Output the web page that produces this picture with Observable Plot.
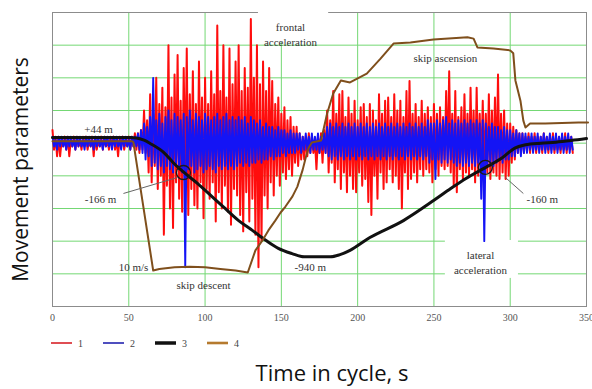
<!DOCTYPE html>
<html>
<head>
<meta charset="utf-8">
<script src="https://cdn.jsdelivr.net/npm/d3@7"></script>
<script src="https://cdn.jsdelivr.net/npm/@observablehq/plot@0.6"></script>
<style>
  html, body { margin: 0; padding: 0; background: #fff; }
  #wrap { position: relative; width: 592px; height: 389px; overflow: hidden; }
  #chart { position: absolute; left: 0; top: 0; }
  #legend { position: absolute; left: 0; top: 332px; }
  #xtitle { position: absolute; top: 360px; left: 332px; transform: translateX(-50%); line-height: 24px;
            font-family: "Open Sans", sans-serif; font-size: 22px; color: #111; white-space: nowrap; }
</style>
</head>
<body>
<div id="wrap">
  <div id="chart"></div>
  <div id="legend"></div>
  <div id="xtitle">Time in cycle, s</div>
</div>
<script>
// ---- data (time axis in s; values in arbitrary "movement parameter" units) ----
const sampleStep = 2; // seconds between samples of the accelerometer traces
const xTicks = [0, 50, 100, 150, 200, 250, 300, 350];
const xGrid = [50, 100, 150, 200, 250, 300];
const yGrid = [-40, -30, -20, -10, 0, 10, 20, 30];

// 1 - frontal acceleration: upper / lower swings per sample
const redHi = [
  4, 2, 2, 1, 2, 2, 1, 2, 2, 1,
  2, 2, 1, 2, 2, 1, 2, 2, 1, 2,
  2, 1, 2, 2, 1, 2, 2, 3, 3, 4,
  10, 7, 15, 9, 20, 12, 17, 11, 30, 14,
  21, 27, 13, 23, 29, 15, 22, 12, 25, 14,
  20, 12, 22, 15, 36, 16, 30, 14, 29, 18,
  25, 30, 16, 23, 17, 38, 20, 30, 18, 25,
  16, 23, 19, 12, 14, 9, 11, 7, 8, 5,
  5, 3, 2, 2, 3, 2, 1, 2, 3, 4,
  10, 7, 16, 9, 15, 16, 8, 14, 9, 13,
  7, 11, 12, 8, 12, 10, 7, 15, 9, 13,
  14, 8, 15, 10, 13, 8, 16, 19, 9, 12,
  8, 13, 9, 11, 8, 12, 9, 11, 8, 16,
  22, 9, 16, 8, 11, 15, 9, 17, 10, 17,
  9, 13, 9, 15, 10, 14, 21, 9, 10, 6,
  6, 5, 4, 3, 3, 2, 3, 2, 3, 2,
  2, 3, 2, 2, 3, 2, 2, 2, 3, 2,
  2
];
const redLo = [
  -2, -4, -4, -1, -2, -4, -1, -2, -1, -2,
  -1, -2, -1, -4, -2, -1, -2, -1, -2, -1,
  -2, -4, -1, -2, -1, -2, -1, -2, -3, -2,
  -3, -9, -12, -7, -14, -10, -28, -13, -20, -26,
  -12, -17, -21, -12, -22, -14, -19, -20, -12, -23,
  -14, -17, -12, -24, -15, -20, -13, -21, -25, -14,
  -16, -22, -27, -15, -24, -17, -28, -38, -30, -16,
  -20, -12, -16, -10, -13, -9, -11, -8, -10, -6,
  -7, -5, -5, -4, -3, -3, -8, -3, -6, -3,
  -9, -6, -12, -8, -14, -9, -15, -10, -14, -15,
  -9, -13, -11, -18, -22, -10, -17, -9, -14, -12,
  -8, -12, -10, -14, -20, -9, -14, -11, -9, -12,
  -8, -10, -8, -9, -12, -8, -10, -7, -8, -7,
  -9, -13, -15, -8, -11, -9, -10, -8, -12, -10,
  -8, -10, -9, -11, -9, -10, -11, -9, -11, -10,
  -6, -5, -3, -3, -3, -2, -3, -2, -3, -2,
  -3, -2, -3, -2, -3, -2, -3, -2, -3, -2,
  -3
];

// 2 - lateral acceleration
const blueHi = [
  2, 1, 2, 2, 1, 2, 2, 1, 2, 2,
  1, 2, 2, 1, 2, 2, 1, 2, 2, 1,
  2, 2, 1, 2, 2, 1, 2, 2, 3, 4,
  6, 5, 8, 20, 7, 9, 6, 8, 10, 7,
  9, 8, 7, 9, 8, 10, 7, 9, 8, 7,
  9, 8, 7, 8, 9, 7, 8, 9, 7, 8,
  7, 8, 7, 8, 6, 8, 7, 6, 7, 5,
  6, 5, 5, 4, 5, 4, 4, 3, 4, 3,
  3, 3, 2, 3, 2, 3, 2, 3, 2, 3,
  5, 6, 5, 6, 5, 6, 5, 6, 5, 6,
  5, 6, 5, 6, 5, 6, 5, 6, 5, 6,
  5, 6, 5, 6, 5, 6, 5, 6, 5, 6,
  5, 6, 5, 7, 6, 6, 7, 6, 7, 8,
  6, 7, 6, 7, 6, 7, 6, 7, 6, 7,
  6, 7, 6, 5, 6, 5, 5, 4, 5, 4,
  4, 3, 4, 3, 3, 3, 2, 3, 2, 3,
  2, 3, 2, 3, 2, 3, 2, 3, 2, 3,
  2
];
const blueLo = [
  -1, -2, -1, -1, -2, -1, -1, -2, -1, -1,
  -2, -1, -1, -2, -1, -1, -2, -1, -1, -2,
  -1, -1, -2, -1, -1, -2, -1, -1, -2, -3,
  -5, -4, -7, -6, -8, -7, -9, -7, -8, -9,
  -7, -8, -9, -38, -8, -7, -9, -8, -7, -9,
  -8, -7, -8, -9, -7, -8, -7, -8, -7, -8,
  -7, -6, -7, -6, -7, -6, -6, -5, -6, -5,
  -5, -4, -5, -4, -4, -3, -4, -3, -3, -3,
  -2, -3, -2, -2, -3, -2, -2, -3, -2, -3,
  -4, -5, -4, -5, -4, -5, -4, -5, -4, -5,
  -4, -5, -4, -5, -4, -5, -4, -5, -4, -5,
  -4, -5, -4, -5, -4, -5, -4, -5, -4, -5,
  -4, -5, -4, -6, -5, -11, -5, -6, -5, -6,
  -5, -6, -7, -6, -7, -6, -7, -6, -7, -6,
  -17, -30, -7, -6, -7, -6, -5, -6, -5, -5,
  -4, -4, -3, -4, -3, -3, -2, -3, -2, -3,
  -2, -3, -2, -3, -2, -3, -2, -3, -2, -3,
  -2
];

// 3 - skip position (depth)
const depthT = [0, 51, 55, 60, 64, 73, 79, 86, 95, 103.5, 112, 122, 131, 140, 148, 157, 165, 182, 188, 195, 208, 230, 250, 261, 271, 284, 295, 303, 310, 320, 330, 340, 350];
const depthV = [1.7, 1.7, 1.6, 0.9, -0.1, -2.9, -5.9, -8.9, -12.3, -15.9, -19.5, -23.7, -26.7, -29.8, -32.2, -33.8, -34.8, -34.8, -34.2, -32.8, -28.9, -23.7, -17.5, -13.9, -10.8, -7.4, -4.4, -1.5, -0.5, 0, 0.3, 0.8, 1.4];

// 4 - skip speed
const speedT = [0, 52, 53, 66, 70, 80, 90, 100, 110, 120, 128, 133, 137.6, 141.5, 146, 149.4, 152.7, 157.3, 160.5, 164, 166, 168, 170, 176, 180, 184, 189, 195, 206, 215, 223.5, 234.6, 249.7, 272, 276, 278.5, 289, 300, 302, 303.4, 306.7, 308.6, 310, 313, 323, 344.7, 351];
const speedV = [0.6, 0.6, 0.3, -39, -38.5, -38, -37.8, -38, -38.5, -39, -39.6, -32.8, -29.8, -26.7, -23.7, -21.3, -19.4, -16.3, -13.3, -8.1, -4.4, -1.3, 0.2, 0.8, 9.1, 15.2, 19.2, 18.6, 21.3, 25.9, 30.5, 30.8, 31.7, 32.4, 32, 29.3, 29, 28.4, 27.5, 19.2, 13, 6.9, 4.8, 6, 6, 6.3, 6.3];

const seriesNames = ["1", "2", "3", "4"];
const seriesColors = ["#dc3a40", "#3b3bb8", "#111111", "#b57a2e"];

// annotations
const noteText = ["+44 m", "frontal\nacceleration", "skip ascension", "-166 m", "10 m/s", "skip descent", "-940 m", "-160 m", "lateral\nacceleration"];
const noteT = [30.1, 156, 257.5, 31.5, 53.1, 99, 169, 321, 280.5];
const noteV = [4.5, 33.4, 26.2, -16.9, -37.8, -43.3, -37.8, -17, -36.4];
const markT = [85.8, 283.7];
const markV = [-9.0, -7.4];
const leaderT1 = [46.5, 296.8], leaderV1 = [-15.4, -10.5];
const leaderT2 = [81.9, 308.6], leaderV2 = [-10.5, -15.4];
const boxT1 = [135, 257.5], boxT2 = [181, 305.4];
const boxV1 = [30.8, -41.4], boxV2 = [44, -29.8];

// ---- build tables ----
function zig(hi, lo) {
  const out = [];
  hi.forEach((h, i) => {
    out.push({t: i * sampleStep, v: h});
    if (lo[i] !== undefined) out.push({t: i * sampleStep + sampleStep / 2, v: lo[i]});
  });
  return out;
}
const red = zig(redHi, redLo);
const blue = zig(blueHi, blueLo);
const depth = depthT.map((t, i) => ({t, v: depthV[i]}));
const speed = speedT.map((t, i) => ({t, v: speedV[i]}));
const notes = noteText.map((text, i) => ({text, t: noteT[i], v: noteV[i]}));
const marks = markT.map((t, i) => ({t, v: markV[i]}));
const leaders = leaderT1.map((t, i) => ({t1: t, v1: leaderV1[i], t2: leaderT2[i], v2: leaderV2[i]}));
const boxes = boxT1.map((t, i) => ({t1: t, t2: boxT2[i], v1: boxV1[i], v2: boxV2[i]}));

const serif = "'Liberation Serif', 'Times New Roman', serif";

const chart = Plot.plot({
  width: 592,
  height: 326,
  marginLeft: 52,
  marginRight: 6,
  marginTop: 12,
  marginBottom: 20,
  x: {domain: [0, 350]},
  y: {domain: [-50, 40], axis: null},
  style: {background: "white"},
  marks: [
    Plot.gridX(xGrid, {stroke: "#74d874", strokeOpacity: 1, strokeWidth: 1}),
    Plot.gridY(yGrid, {stroke: "#74d874", strokeOpacity: 1, strokeWidth: 1}),
    Plot.frame({stroke: "#8c8c8c", strokeWidth: 1}),
    Plot.rect(boxes, {x1: "t1", x2: "t2", y1: "v1", y2: "v2", fill: "white"}),
    Plot.axisX(xTicks, {tickSize: 0, tickPadding: 7, fontFamily: serif, fontSize: 10, fill: "#555", label: null}),
    Plot.line(red, {x: "t", y: "v", stroke: "#ff0d0d", strokeWidth: 2}),
    Plot.line(blue, {x: "t", y: "v", stroke: "#1414f5", strokeWidth: 1.9}),
    Plot.line(depth, {x: "t", y: "v", curve: "monotone-x", stroke: "#111", strokeWidth: 3}),
    Plot.line(speed, {x: "t", y: "v", stroke: "#7f4f1c", strokeWidth: 2}),
    Plot.link(leaders, {x1: "t1", y1: "v1", x2: "t2", y2: "v2", stroke: "#666", strokeWidth: 1}),
    Plot.dot(marks, {x: "t", y: "v", r: 7, stroke: "#1a1a1a", strokeWidth: 1.4, fill: "none"}),
    Plot.text(notes, {x: "t", y: "v", text: "text", textAnchor: "middle", fontFamily: serif, fontSize: 11, fill: "#333", lineHeight: 1.35}),
    Plot.text(["Movement parameters"], {frameAnchor: "left", textAnchor: "middle", dx: -31, dy: 10, rotate: -90, fontFamily: "'Open Sans', sans-serif", fontSize: 21, fill: "#111"})
  ]
});
document.getElementById("chart").append(chart);

// ---- legend (below the plot) ----
const leg = d3.select("#legend").append("svg").attr("width", 592).attr("height", 22);
const widths = [1.8, 1.8, 3.5, 2.6];
seriesNames.forEach((name, i) => {
  const x0 = 51 + i * 52;
  leg.append("line").attr("x1", x0).attr("x2", x0 + 21).attr("y1", 11).attr("y2", 11)
    .attr("stroke", seriesColors[i]).attr("stroke-width", widths[i]);
  leg.append("text").attr("x", x0 + 27).attr("y", 14.5).text(name)
    .attr("font-family", serif).attr("font-size", 10).attr("fill", "#444");
});
</script>
</body>
</html>
